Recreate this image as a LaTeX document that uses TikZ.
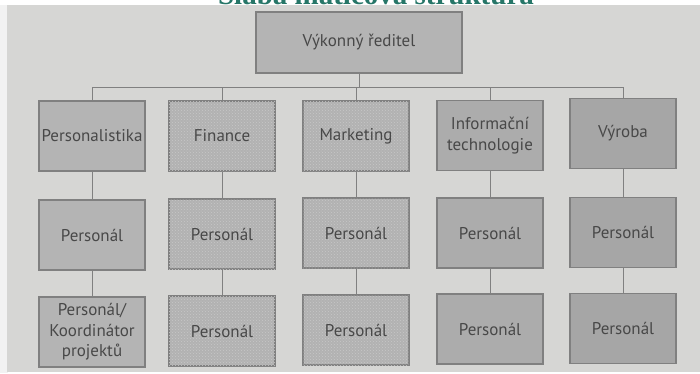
\documentclass[tikz,border=0pt]{standalone}
\usepackage{fontspec}
\setmainfont{PT Sans}
\newfontfamily\titlefont{Liberation Serif}
\usetikzlibrary{patterns}
\definecolor{paper}{RGB}{214,214,212}
\definecolor{margin}{RGB}{242,242,242}
\definecolor{boxA}{RGB}{180,180,180}
\definecolor{boxB}{RGB}{178,178,178}
\definecolor{boxC}{RGB}{172,172,172}
\definecolor{boxD}{RGB}{166,166,166}
\definecolor{edge}{RGB}{128,128,128}
\definecolor{txt}{RGB}{72,72,72}
\definecolor{titlecol}{RGB}{38,118,104}
\tikzset{
  orgbox/.style={draw=edge, line width=1.1pt, minimum width=106pt, minimum height=70pt,
    inner sep=1pt, align=center, text=txt, font=\fontsize{17}{20.5}\selectfont},
  colA/.style={orgbox, fill=boxA},
  colB/.style={orgbox, fill=boxB, postaction={pattern=crosshatch dots, pattern color=black!22}},
  colC/.style={orgbox, fill=boxC},
  colD/.style={orgbox, fill=boxD},
  link/.style={draw=edge, line width=0.9pt}
}
\begin{document}
\begin{tikzpicture}[x=1pt,y=-1pt]
\useasboundingbox (0,0) rectangle (700,373);
\fill[white] (0,0) rectangle (700,373);
\node[anchor=base, text=titlecol, font=\titlefont\bfseries\fontsize{29}{30}\selectfont, inner sep=0pt] (title) at (376,4.5) {Slabá maticová struktura};
\fill[margin] (0,5) rectangle (8,373);
\fill[paper] (7,5) rectangle (700,372);
% top
\node[orgbox, fill=boxA, minimum width=206pt, minimum height=61pt] (top) at (359,42.5) {Výkonný ředitel};
% row 1
\node[colA] (a1) at (92,136) {Personalistika};
\node[colB] (b1) at (222,136) {Finance};
\node[colB] (c1) at (356,136) {Marketing};
\node[colC] (d1) at (490,135.5) {Informační\\technologie};
\node[colD] (e1) at (623,133.5) {Výroba};
% row 2
\node[colA] (a2) at (92,235) {Personál};
\node[colB] (b2) at (222,234) {Personál};
\node[colB] (c2) at (356,233) {Personál};
\node[colC] (d2) at (490,233) {Personál};
\node[colD] (e2) at (623,232.5) {Personál};
% row 3
\node[colA] (a3) at (92,332) {Personál/\\Koordinátor\\projektů};
\node[colB] (b3) at (222,331) {Personál};
\node[colB] (c3) at (356,330) {Personál};
\node[colC] (d3) at (490,329) {Personál};
\node[colD] (e3) at (623,328.5) {Personál};
% connectors
\coordinate (bus) at (0,87);
\draw[link] (top.south) -- (top.south |- bus);
\draw[link] (a1.north) -- (a1.north |- bus) -- (e1.north |- bus) -- (e1.north);
\draw[link] (b1.north) -- (b1.north |- bus);
\draw[link] (c1.north) -- (c1.north |- bus);
\draw[link] (d1.north) -- (d1.north |- bus);
\draw[link] (a1) -- (a2); \draw[link] (a2) -- (a3);
\draw[link] (b1) -- (b2); \draw[link] (b2) -- (b3);
\draw[link] (c1) -- (c2); \draw[link] (c2) -- (c3);
\draw[link] (d1) -- (d2); \draw[link] (d2) -- (d3);
\draw[link] (e1) -- (e2); \draw[link] (e2) -- (e3);
\end{tikzpicture}
\end{document}
